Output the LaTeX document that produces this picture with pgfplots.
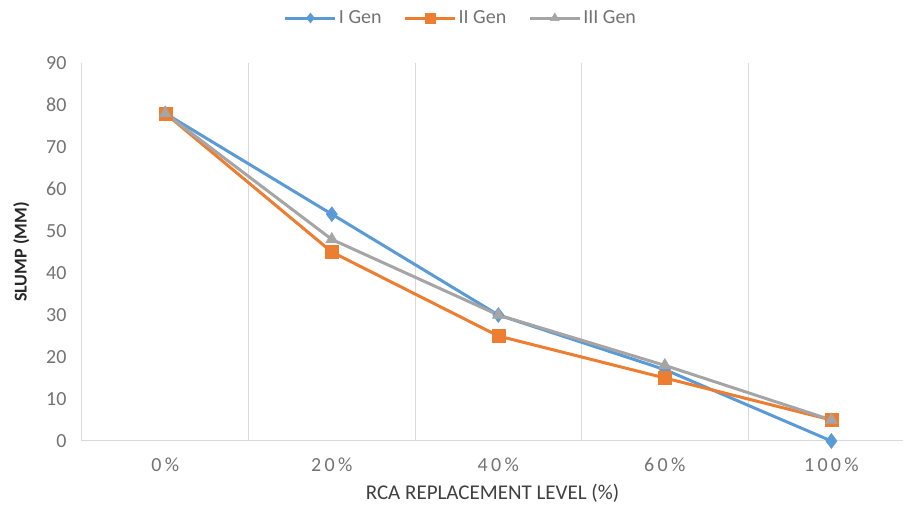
\documentclass[border=0pt]{standalone}
\usepackage{pgfplots}
\pgfplotsset{compat=1.18}
\usepackage{fontspec}
\setmainfont{Carlito}
\usetikzlibrary{calc}
\definecolor{cblue}{HTML}{5B9BD5}
\definecolor{corange}{HTML}{ED7D31}
\definecolor{cgray}{HTML}{A5A5A5}
\definecolor{ctick}{HTML}{737373}
\definecolor{cgrid}{HTML}{D9D9D9}
\begin{document}
\begin{tikzpicture}
\begin{axis}[
  scale only axis,
  width=821pt, height=378pt,
  xmin=-0.5, xmax=4.43,
  ymin=0, ymax=90,
  ytick={0,10,...,90},
  xtick={0,1,2,3,4},
  xticklabels={0\,\%,2\,0\,\%,4\,0\,\%,6\,0\,\%,1\,0\,0\,\%},
  minor xtick={0.5,1.5,2.5,3.5},
  xminorgrids=true,
  minor grid style={cgrid, line width=1pt},
  minor tick length=0pt,
  major tick length=0pt,
  axis x line*=bottom,
  axis y line*=left,
  axis line style={cgrid, line width=1pt, -},
  /pgf/number format/assume math mode=true,
  ticklabel style={font=\fontsize{20}{24}\selectfont, text=ctick},
  yticklabel style={xshift=-12pt},
  xticklabel style={yshift=-13pt},
  xlabel={RCA REPLACEMENT LEVEL (\%)},
  ylabel={\textbf{SLUMP (MM)}},
  xlabel style={font=\fontsize{21}{24}\selectfont, text=black!75, yshift=-6pt},
  ylabel style={font=\fontsize{18}{20}\selectfont, text=black!85, yshift=10pt},
  legend columns=3,
  legend style={at={(axis description cs:0.4616,1.119)}, anchor=center, draw=none,
    font=\fontsize{20}{24}\selectfont, text=ctick,
    /tikz/every even column/.append style={column sep=20pt}},
  legend image code/.code={
    \draw[mark repeat=2,mark phase=2, mark size=5pt] plot coordinates {(0pt,0pt) (25pt,0pt) (50pt,0pt)};
  },
  clip=false,
]
\addplot[cblue, line width=3pt, mark=diamond*, mark size=7.5pt, mark options={solid, line width=0.5pt}]
  coordinates {(0,78) (1,54) (2,30) (3,17) (4,0)};
\addlegendentry{I Gen}
\addplot[corange, line width=3pt, mark=square*, mark size=6.5pt, mark options={solid, line width=0.5pt}]
  coordinates {(0,78) (1,45) (2,25) (3,15) (4,5)};
\addlegendentry{II Gen}
\addplot[cgray, line width=3pt, mark=triangle*, mark size=7pt, mark options={solid, line width=0.5pt}]
  coordinates {(0,78) (1,48) (2,30) (3,18) (4,5)};
\addlegendentry{III Gen}
\end{axis}
\pgfresetboundingbox
\useasboundingbox ($(current axis.south west)+(-82pt,-67pt)$) rectangle ($(current axis.north east)+(0pt,63pt)$);
\end{tikzpicture}
\end{document}
